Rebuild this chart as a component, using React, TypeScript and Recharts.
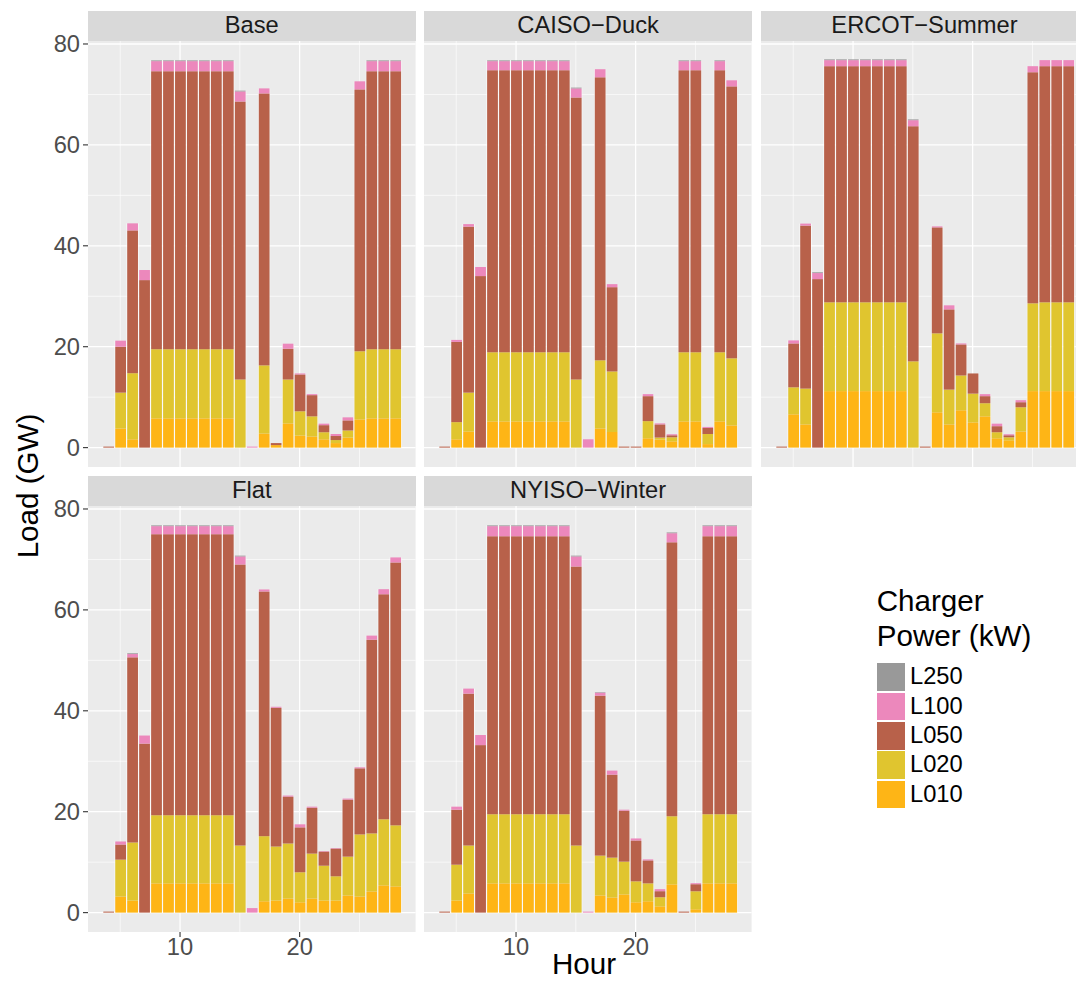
import React from 'react';
import { BarChart, Bar, XAxis, YAxis, CartesianGrid } from 'recharts';

// ---------- data ----------
const hours = [4, 5, 6, 7, 8, 9, 10, 11, 12, 13, 14, 15, 16, 17, 18, 19, 20, 21, 22, 23, 24, 25, 26, 27, 28];

const seriesKeys = ['L010', 'L020', 'L050', 'L100', 'L250'];
const seriesColors = ['#FEB516', '#E0C52F', '#B8614A', '#EC88BC', '#999999'];
const legendKeys = ['L250', 'L100', 'L050', 'L020', 'L010'];
const legendColors = ['#999999', '#EC88BC', '#B8614A', '#E0C52F', '#FEB516'];

const yTicks = [0, 20, 40, 60, 80];
const yMinor = [10, 30, 50, 70];
const xTicks = [10, 20];
const xMinor = [5, 15, 25];

const scenarioNames = ['Base', 'CAISO−Duck', 'ERCOT−Summer', 'Flat', 'NYISO−Winter'];

// Base
const baseL010 = [0, 3.8, 1.65, 0, 5.8, 5.8, 5.8, 5.8, 5.8, 5.8, 5.8, 0, 0, 2.8, 0.5, 4.8, 2.4, 2.2, 1.65, 0.9, 2.0, 5.6, 5.8, 5.8, 5.8];
const baseL020 = [0, 7.1, 13.1, 0, 13.7, 13.7, 13.7, 13.7, 13.7, 13.7, 13.7, 13.5, 0, 13.5, 0, 8.7, 4.8, 4.0, 1.4, 0.6, 1.4, 13.5, 13.7, 13.7, 13.7];
const baseL050 = [0.2, 9.1, 28.3, 33.2, 55.1, 55.1, 55.1, 55.1, 55.1, 55.1, 55.1, 55.1, 0, 53.9, 0.4, 6.1, 7.3, 4.2, 1.4, 0.8, 2.0, 51.9, 55.1, 55.1, 55.1];
const baseL100 = [0, 1.2, 1.4, 2.0, 2.0, 2.0, 2.0, 2.0, 2.0, 2.0, 2.0, 2.0, 0.2, 1.0, 0, 1.0, 0.2, 0.2, 0.3, 0.4, 0.6, 1.6, 2.0, 2.0, 2.0];
const baseL250 = [0, 0, 0, 0, 0.15, 0.15, 0.15, 0.15, 0.15, 0.15, 0.15, 0.15, 0, 0, 0, 0, 0, 0, 0, 0, 0, 0, 0.15, 0.15, 0.15];

// CAISO-Duck
const caisoL010 = [0, 1.65, 3.2, 0, 5.2, 5.2, 5.2, 5.2, 5.2, 5.2, 5.2, 0, 0, 3.8, 3.1, 0, 0, 1.85, 1.6, 1.25, 5.2, 5.2, 0.7, 5.2, 4.4];
const caisoL020 = [0, 3.4, 7.7, 0, 13.7, 13.7, 13.7, 13.7, 13.7, 13.7, 13.7, 13.5, 0, 13.5, 12.0, 0, 0, 3.4, 0.4, 0.8, 13.7, 13.7, 2.0, 13.7, 13.3];
const caisoL050 = [0.2, 15.9, 32.9, 34.0, 55.9, 55.9, 55.9, 55.9, 55.9, 55.9, 55.9, 55.9, 0, 56.1, 16.7, 0.2, 0.2, 4.95, 2.6, 0.4, 55.9, 55.9, 1.2, 55.9, 53.9];
const caisoL100 = [0, 0.4, 0.5, 1.8, 1.8, 1.8, 1.8, 1.8, 1.8, 1.8, 1.8, 1.8, 1.65, 1.6, 0.6, 0, 0, 0.4, 0.2, 0.2, 1.8, 1.8, 0.2, 1.8, 1.2];
const caisoL250 = [0, 0, 0, 0, 0.15, 0.15, 0.15, 0.15, 0.15, 0.15, 0.15, 0.15, 0, 0, 0, 0, 0, 0, 0, 0, 0.15, 0.15, 0, 0.15, 0];

// ERCOT-Summer
const ercotL010 = [0, 6.6, 4.6, 0, 11.2, 11.2, 11.2, 11.2, 11.2, 11.2, 11.2, 0, 0, 7.0, 4.6, 7.4, 5.0, 6.2, 1.85, 1.45, 3.2, 11.2, 11.2, 11.2, 11.2];
const ercotL020 = [0, 5.35, 7.1, 0, 17.6, 17.6, 17.6, 17.6, 17.6, 17.6, 17.6, 17.1, 0, 15.65, 6.9, 6.9, 5.7, 2.6, 1.2, 0.6, 4.8, 17.4, 17.6, 17.6, 17.6];
const ercotL050 = [0.2, 8.7, 32.3, 33.4, 46.8, 46.8, 46.8, 46.8, 46.8, 46.8, 46.8, 46.6, 0.2, 21.0, 15.9, 6.15, 4.0, 1.4, 1.2, 0.4, 1.0, 45.8, 46.8, 46.8, 46.8];
const ercotL100 = [0, 0.6, 0.4, 1.2, 1.2, 1.2, 1.2, 1.2, 1.2, 1.2, 1.2, 1.2, 0, 0.2, 0.8, 0.2, 0, 0.4, 0.5, 0.2, 0.4, 1.2, 1.2, 1.2, 1.2];
const ercotL250 = [0, 0, 0, 0.15, 0.15, 0.15, 0.15, 0.15, 0.15, 0.15, 0.15, 0.15, 0, 0, 0, 0, 0, 0, 0, 0, 0, 0, 0, 0, 0];

// Flat
const flatL010 = [0, 3.2, 2.4, 0, 5.8, 5.8, 5.8, 5.8, 5.8, 5.8, 5.8, 0, 0, 2.25, 2.4, 2.8, 2.05, 2.8, 2.4, 2.4, 3.4, 3.2, 4.2, 5.4, 5.2];
const flatL020 = [0, 7.3, 11.5, 0, 13.5, 13.5, 13.5, 13.5, 13.5, 13.5, 13.5, 13.3, 0, 12.9, 10.7, 10.9, 5.95, 8.9, 6.9, 4.8, 7.7, 12.3, 11.5, 13.1, 12.1];
const flatL050 = [0.2, 3.0, 36.7, 33.5, 55.7, 55.7, 55.7, 55.7, 55.7, 55.7, 55.7, 55.7, 0, 48.5, 27.5, 9.3, 8.9, 9.1, 2.8, 5.5, 11.3, 13.1, 38.4, 44.6, 52.1];
const flatL100 = [0, 0.6, 0.65, 1.6, 1.6, 1.6, 1.6, 1.6, 1.6, 1.6, 1.6, 1.6, 0.9, 0.4, 0.2, 0.2, 0.6, 0.2, 0.1, 0.1, 0.2, 0.2, 0.8, 1.0, 1.0];
const flatL250 = [0, 0, 0.15, 0, 0.15, 0.15, 0.15, 0.15, 0.15, 0.15, 0.15, 0.15, 0, 0, 0, 0, 0, 0, 0, 0, 0, 0, 0, 0, 0];

// NYISO-Winter
const nyisoL010 = [0, 2.4, 3.8, 0, 5.8, 5.8, 5.8, 5.8, 5.8, 5.8, 5.8, 0, 0, 3.4, 3.0, 3.6, 2.05, 2.25, 1.25, 5.6, 0, 0.66, 5.8, 5.8, 5.8];
const nyisoL020 = [0, 7.1, 9.5, 0, 13.7, 13.7, 13.7, 13.7, 13.7, 13.7, 13.7, 13.3, 0, 7.9, 7.9, 6.5, 4.15, 3.55, 1.8, 13.5, 0, 3.57, 13.7, 13.7, 13.7];
const nyisoL050 = [0.2, 10.9, 30.1, 33.2, 55.1, 55.1, 55.1, 55.1, 55.1, 55.1, 55.1, 55.3, 0, 31.7, 16.45, 10.1, 8.1, 4.55, 1.2, 54.3, 0.2, 1.4, 55.1, 55.1, 55.1];
const nyisoL100 = [0, 0.6, 1.0, 2.0, 2.0, 2.0, 2.0, 2.0, 2.0, 2.0, 2.0, 2.0, 0.2, 0.6, 0.8, 0.2, 0.4, 0.2, 0.4, 1.8, 0, 0.2, 2.0, 2.0, 2.0];
const nyisoL250 = [0, 0, 0, 0, 0.15, 0.15, 0.15, 0.15, 0.15, 0.15, 0.15, 0.15, 0, 0.1, 0, 0, 0, 0, 0, 0.15, 0, 0, 0.15, 0.15, 0.15];

// ---------- layout ----------
const FONT = '"Liberation Sans", Arial, Helvetica, sans-serif';
const PANEL_W = 327.6;
const PANEL_H = 426;
const COL_X = [88, 424.3, 760.7];
const ROW_Y = [40.7, 505.7];
const STRIP_H = 29.7;
const TOP_PAD = 20;
const X_AXIS_H = 40;
const Y_AXIS_W = 88;
const BAR_W = 10.76;
const SMALL = 23.7;
const BIG = 29.6;

function buildRows(s: number[][]) {
  return hours.map((h, i) => ({
    hour: h,
    L010: s[0][i],
    L020: s[1][i],
    L050: s[2][i],
    L100: s[3][i],
    L250: s[4][i],
  }));
}

const panels = [
  { title: scenarioNames[0], rows: buildRows([baseL010, baseL020, baseL050, baseL100, baseL250]), col: 0, row: 0, showY: true, showX: false },
  { title: scenarioNames[1], rows: buildRows([caisoL010, caisoL020, caisoL050, caisoL100, caisoL250]), col: 1, row: 0, showY: false, showX: false },
  { title: scenarioNames[2], rows: buildRows([ercotL010, ercotL020, ercotL050, ercotL100, ercotL250]), col: 2, row: 0, showY: false, showX: false },
  { title: scenarioNames[3], rows: buildRows([flatL010, flatL020, flatL050, flatL100, flatL250]), col: 0, row: 1, showY: true, showX: true },
  { title: scenarioNames[4], rows: buildRows([nyisoL010, nyisoL020, nyisoL050, nyisoL100, nyisoL250]), col: 1, row: 1, showY: false, showX: true },
];

// bar segment with thin white separators on its left and right sides only
const Seg = (props: any) => {
  const { x, y, width, height, fill } = props;
  if (!height || height <= 0 || !width) return <g />;
  return (
    <g>
      <rect x={x - 0.6} y={y} width={0.6} height={height} fill="#FFFFFF" />
      <rect x={x + width} y={y} width={0.6} height={height} fill="#FFFFFF" />
      <rect x={x} y={y} width={width} height={height} fill={fill} />
    </g>
  );
};

function Panel(p: { title: string; rows: any[]; col: number; row: number; showY: boolean; showX: boolean }) {
  const left = p.showY ? COL_X[p.col] - Y_AXIS_W : COL_X[p.col];
  const width = (p.showY ? Y_AXIS_W : 0) + PANEL_W;
  const top = ROW_Y[p.row] - TOP_PAD;
  const height = TOP_PAD + PANEL_H + (p.showX ? X_AXIS_H : 0);
  const tickStyle = { fontSize: SMALL, fill: '#4D4D4D', fontFamily: FONT };
  return (
    <>
      <div
        style={{
          position: 'absolute',
          left: COL_X[p.col],
          top: ROW_Y[p.row] - STRIP_H,
          width: PANEL_W,
          height: STRIP_H,
          lineHeight: STRIP_H + 'px',
          background: '#D9D9D9',
          color: '#1A1A1A',
          fontSize: SMALL,
          fontFamily: FONT,
          textAlign: 'center',
          whiteSpace: 'nowrap',
        }}
      >
        {p.title}
      </div>
      <div style={{ position: 'absolute', left, top }}>
        <BarChart
          width={width}
          height={height}
          data={p.rows}
          margin={{ top: TOP_PAD, right: 0, bottom: 0, left: 0 }}
          barGap={0}
          barCategoryGap={0}
        >
          <CartesianGrid fill="#EBEBEB" stroke="#FFFFFF" strokeWidth={0.65} horizontalValues={yMinor} verticalValues={xMinor} />
          <CartesianGrid stroke="#FFFFFF" strokeWidth={1.3} horizontalValues={yTicks} verticalValues={xTicks} />
          <XAxis
            dataKey="hour"
            type="number"
            domain={[2.305, 29.695]}
            allowDataOverflow
            ticks={xTicks}
            interval={0}
            hide={!p.showX}
            height={X_AXIS_H}
            axisLine={false}
            tickLine={{ stroke: '#333333', strokeWidth: 1.1 }}
            tickSize={5}
            tickMargin={1}
            tick={tickStyle}
          />
          <YAxis
            type="number"
            domain={[-3.84, 80.59]}
            allowDataOverflow
            ticks={yTicks}
            interval={0}
            hide={!p.showY}
            width={Y_AXIS_W}
            axisLine={false}
            tickLine={{ stroke: '#333333', strokeWidth: 1.1 }}
            tickSize={5}
            tickMargin={3}
            tick={tickStyle}
          />
          {seriesKeys.map((k, i) => (
            <Bar
              key={k}
              dataKey={k}
              stackId="load"
              fill={seriesColors[i]}
              barSize={BAR_W}
              isAnimationActive={false}
              shape={(sp: any) => <Seg {...sp} />}
            />
          ))}
        </BarChart>
      </div>
    </>
  );
}

export default function App() {
  return (
    <div
      style={{
        position: 'absolute',
        left: 0,
        top: 0,
        width: 1076,
        height: 982,
        overflow: 'hidden',
        background: '#FFFFFF',
        fontFamily: FONT,
      }}
    >
      {panels.map((p) => (
        <Panel key={p.title} {...p} />
      ))}

      {/* y-axis title */}
      <div
        style={{
          position: 'absolute',
          left: 28 - 100,
          top: 486 - 15,
          width: 200,
          height: 30,
          lineHeight: '30px',
          textAlign: 'center',
          fontSize: BIG,
          color: '#000000',
          transform: 'rotate(-90deg)',
          whiteSpace: 'nowrap',
        }}
      >
        Load (GW)
      </div>

      {/* x-axis title */}
      <div
        style={{
          position: 'absolute',
          left: 584 - 100,
          top: 952,
          width: 200,
          height: 24,
          lineHeight: '24px',
          textAlign: 'center',
          fontSize: BIG,
          color: '#000000',
        }}
      >
        Hour
      </div>

      {/* legend */}
      <div
        style={{
          position: 'absolute',
          left: 876.7,
          top: 584.3,
          fontSize: BIG,
          lineHeight: '34.3px',
          color: '#000000',
          whiteSpace: 'nowrap',
        }}
      >
        <div>Charger</div>
        <div>Power (kW)</div>
      </div>
      {legendKeys.map((k, i) => (
        <React.Fragment key={k}>
          <div
            style={{
              position: 'absolute',
              left: 876.7,
              top: 663.3 + i * 29.35,
              width: 28.3,
              height: 27.6,
              background: legendColors[i],
            }}
          />
          <div
            style={{
              position: 'absolute',
              left: 910,
              top: 663.3 + i * 29.35,
              height: 27.6,
              lineHeight: '27.6px',
              fontSize: SMALL,
              color: '#000000',
            }}
          >
            {k}
          </div>
        </React.Fragment>
      ))}
    </div>
  );
}
